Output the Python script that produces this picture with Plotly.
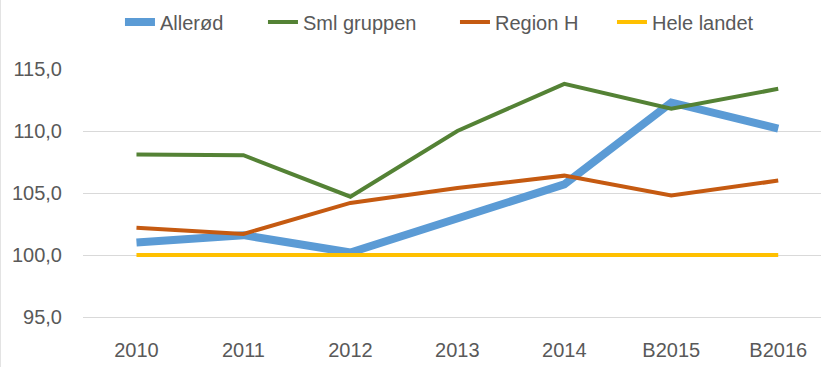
import plotly.graph_objects as go

years = ["2010", "2011", "2012", "2013", "2014", "B2015", "B2016"]
allerod = [101.0, 101.6, 100.2, 102.9, 105.7, 112.3, 110.2]
sml_gruppen = [108.1, 108.05, 104.7, 110.0, 113.8, 111.8, 113.4]
region_h = [102.2, 101.7, 104.2, 105.4, 106.4, 104.8, 106.0]
hele_landet = [100.0, 100.0, 100.0, 100.0, 100.0, 100.0, 100.0]

# name, values, colour, line width, legend entry width
series = [
    ("Allerød", allerod, "#5B9BD5", 8, 98),
    ("Sml gruppen", sml_gruppen, "#548235", 4, 147),
    ("Region H", region_h, "#C55A11", 4, 112),
    ("Hele landet", hele_landet, "#FFC000", 4, 110),
]

font_family = "Liberation Sans, Arial, sans-serif"
text_color = "#595959"
grid_color = "#D9D9D9"

fig = go.Figure()
for name, vals, color, width, lw in series:
    fig.add_trace(go.Scatter(
        x=years, y=vals, name=name, mode="lines",
        line=dict(color=color, width=width),
        legendwidth=lw,
    ))

fig.update_layout(
    width=821, height=367,
    margin=dict(l=83, r=0, t=69, b=50),
    paper_bgcolor="white", plot_bgcolor="white",
    font=dict(family=font_family, size=20, color=text_color),
    separators=",.",
    showlegend=True,
    legend=dict(
        orientation="h", x=0.0501, xanchor="left", y=1.19, yanchor="middle",
        font=dict(size=20, color=text_color), itemwidth=30,
        bgcolor="rgba(0,0,0,0)",
    ),
    xaxis=dict(
        type="category", range=[-0.5, 6.4],
        showgrid=False, zeroline=False,
        showline=True, linecolor=grid_color, linewidth=1,
        ticks="", ticklabelstandoff=15,
        tickfont=dict(size=20, color=text_color),
    ),
    yaxis=dict(
        range=[95, 115], dtick=5, tick0=95,
        tickformat=".1f",
        showgrid=True, gridcolor=grid_color, gridwidth=1,
        zeroline=False, showline=False, ticks="",
        ticklabelstandoff=20,
        tickfont=dict(size=20, color=text_color),
    ),
    shapes=[
        # chart area border on the left edge
        dict(type="line", xref="paper", yref="paper",
             x0=-82.5 / 738, x1=-82.5 / 738, y0=-50 / 248, y1=1 + 69 / 248,
             line=dict(color="#E3E3E3", width=1)),
    ],
)

fig.write_html("out.html")
